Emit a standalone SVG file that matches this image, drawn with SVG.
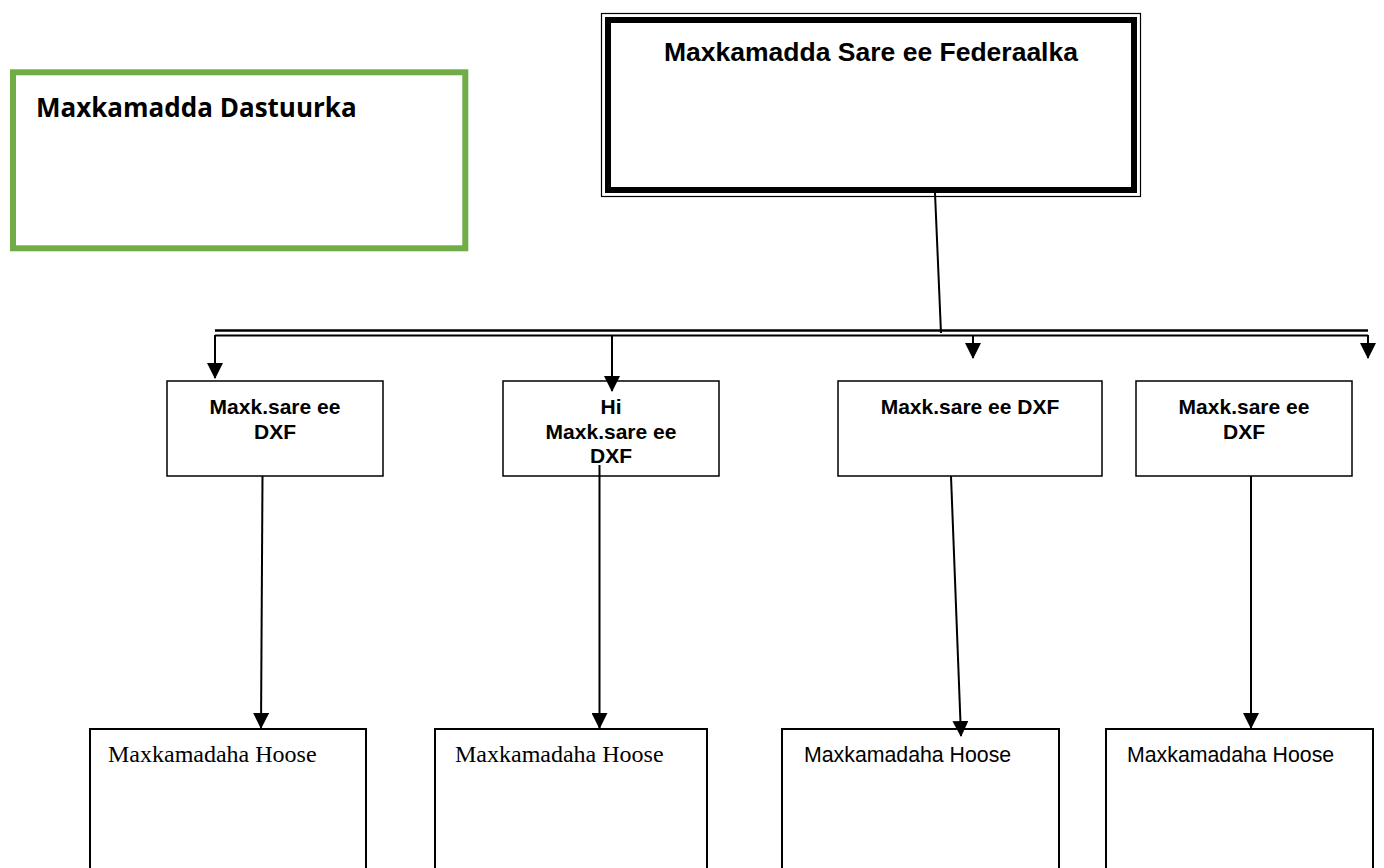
<svg xmlns="http://www.w3.org/2000/svg" width="1384" height="868" viewBox="0 0 1384 868">
<style>
.box{fill:#fff;stroke:#000;stroke-width:1.5}
.low{fill:#fff;stroke:#000;stroke-width:2}
.lbl{font-family:"Liberation Sans",Arial,sans-serif;font-weight:bold;font-size:21px;text-anchor:middle;fill:#000}
.title{font-family:"Liberation Sans",Arial,sans-serif;font-weight:bold;font-size:26.5px;text-anchor:middle;fill:#000}
.serif{font-family:"Liberation Serif","Times New Roman",serif;font-size:24px;fill:#000}
.sans{font-family:"Liberation Sans",Arial,sans-serif;font-size:21.3px;fill:#000}
.conn{stroke:#000;stroke-width:2;fill:none}
</style>
<defs>
<marker id="arr" markerUnits="userSpaceOnUse" markerWidth="16" markerHeight="16" viewBox="0 0 16 16" refX="15" refY="8" orient="auto">
<path d="M0,0 L16,8 L0,16 z" fill="#000"/>
</marker>
</defs>
<rect width="1384" height="868" fill="#fff"/>

<g id="federal">
<rect x="601.5" y="13.5" width="539" height="183" fill="#fff" stroke="#000" stroke-width="1.2"/>
<rect x="608" y="20" width="526" height="170" fill="none" stroke="#000" stroke-width="6"/>
<text class="title" x="871" y="61">Maxkamadda Sare ee Federaalka</text>
</g>

<g id="dastuurka">
<rect x="13" y="72.3" width="452.3" height="176" fill="#fff" stroke="#70AD47" stroke-width="6"/>
<text x="36" y="117" font-family="'Open Sans',sans-serif" font-weight="bold" font-size="26" fill="#000">Maxkamadda Dastuurka</text>
</g>

<g id="dxf1">
<rect class="box" x="167" y="381" width="216" height="95"/>
<text class="lbl" x="275" y="414">Maxk.sare ee</text>
<text class="lbl" x="275" y="438.5">DXF</text>
</g>
<g id="dxf2">
<rect class="box" x="503" y="381" width="216" height="95"/>
<text class="lbl" x="611" y="414">Hi</text>
<text class="lbl" x="611" y="438.5">Maxk.sare ee</text>
<text class="lbl" x="611" y="463">DXF</text>
</g>
<g id="dxf3">
<rect class="box" x="838" y="381" width="264" height="95"/>
<text class="lbl" x="970" y="414">Maxk.sare ee DXF</text>
</g>
<g id="dxf4">
<rect class="box" x="1136" y="381" width="216" height="95"/>
<text class="lbl" x="1244" y="414">Maxk.sare ee</text>
<text class="lbl" x="1244" y="438.5">DXF</text>
</g>

<g id="hoose1">
<rect class="low" x="90" y="729" width="276" height="150"/>
<text class="serif" x="108" y="762">Maxkamadaha Hoose</text>
</g>
<g id="hoose2">
<rect class="low" x="435" y="729" width="272" height="150"/>
<text class="serif" x="455" y="762">Maxkamadaha Hoose</text>
</g>
<g id="hoose3">
<rect class="low" x="782" y="729" width="277" height="150"/>
<text class="sans" x="804" y="762">Maxkamadaha Hoose</text>
</g>
<g id="hoose4">
<rect class="low" x="1106" y="729" width="267" height="150"/>
<text class="sans" x="1127" y="762">Maxkamadaha Hoose</text>
</g>

<g id="connectors">
<line class="conn" x1="935" y1="193" x2="941" y2="333"/>
<line x1="215" y1="330.5" x2="1368" y2="330.5" stroke="#000" stroke-width="2.5"/>
<line x1="215" y1="335.5" x2="1368" y2="335.5" stroke="#000" stroke-width="2"/>
<line class="conn" x1="215" y1="335" x2="215" y2="378" marker-end="url(#arr)"/>
<line class="conn" x1="612" y1="336" x2="612" y2="391" marker-end="url(#arr)"/>
<line class="conn" x1="973" y1="336" x2="973" y2="358" marker-end="url(#arr)"/>
<line class="conn" x1="1368" y1="335" x2="1368" y2="358" marker-end="url(#arr)"/>
<line class="conn" x1="262.5" y1="476" x2="261" y2="728" marker-end="url(#arr)"/>
<line class="conn" x1="599.5" y1="465" x2="599.5" y2="728" marker-end="url(#arr)"/>
<line class="conn" x1="951" y1="476" x2="961" y2="736" marker-end="url(#arr)"/>
<line class="conn" x1="1251" y1="476" x2="1251" y2="728" marker-end="url(#arr)"/>
</g>
</svg>
